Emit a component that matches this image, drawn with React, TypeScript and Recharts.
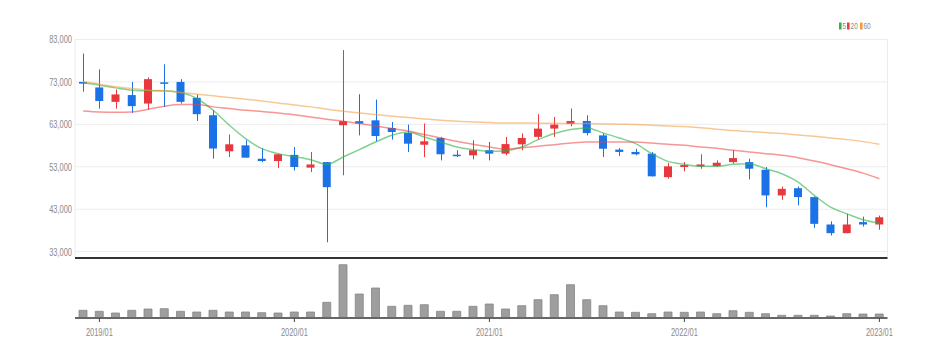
import React from 'react';
import { ComposedChart, BarChart, Bar, Line, XAxis, YAxis, CartesianGrid, Legend } from 'recharts';

const months = [
  '2018/12',
  '2019/01','2019/02','2019/03','2019/04','2019/05','2019/06','2019/07','2019/08','2019/09','2019/10','2019/11','2019/12',
  '2020/01','2020/02','2020/03','2020/04','2020/05','2020/06','2020/07','2020/08','2020/09','2020/10','2020/11','2020/12',
  '2021/01','2021/02','2021/03','2021/04','2021/05','2021/06','2021/07','2021/08','2021/09','2021/10','2021/11','2021/12',
  '2022/01','2022/02','2022/03','2022/04','2022/05','2022/06','2022/07','2022/08','2022/09','2022/10','2022/11','2022/12',
  '2023/01',
];

const opens = [
  73000,
  71700, 68300, 69900, 67900, 72900, 73000, 69250, 65150, 56650, 58050, 54900, 54350,
  55800, 52800, 54100, 62800, 63750, 63950, 62150, 60950, 58200, 59800, 55850, 55700,
  56900, 56100, 58300, 60050, 62000, 63100, 63800, 60400, 57050, 56500, 56100, 50550,
  52950, 53100, 53150, 54100, 54100, 52300, 46250, 47950, 45850, 39400, 37350, 39950,
  39400,
];
const highs = [
  79700,
  75950, 71200, 73000, 74050, 77150, 73650, 70050, 66350, 60600, 59250, 57400, 56100,
  57650, 56500, 54100, 80500, 70100, 68850, 63550, 62950, 63200, 60050, 56900, 59250,
  58850, 60050, 60850, 65400, 64750, 66750, 65150, 60850, 57400, 57250, 56500, 53900,
  54100, 55950, 54500, 56900, 54900, 52950, 48350, 48350, 46000, 40150, 41900, 41250,
  41500,
];
const lows = [
  70700,
  66700, 66700, 65700, 66500, 67100, 67900, 63800, 54900, 55300, 55150, 54100, 52700,
  52150, 51750, 35200, 51000, 60400, 59000, 59400, 56500, 55300, 54500, 55300, 54750,
  54500, 55700, 56900, 59400, 60050, 62550, 60400, 55300, 55550, 55700, 50700, 50200,
  51900, 52550, 52950, 53750, 50000, 43450, 45200, 43900, 38600, 36800, 37350, 38900,
  38150,
];
const closes = [
  72600,
  68500, 70050, 67300, 73650, 72600, 68300, 65400, 57300, 58300, 55150, 54350, 55950,
  52950, 53550, 48200, 63750, 63200, 60250, 61200, 58450, 59000, 55950, 55550, 56900,
  56100, 58350, 59800, 62000, 62950, 63800, 60950, 57250, 56500, 55950, 50750, 53100,
  53400, 53550, 53950, 55050, 52550, 46250, 47800, 45850, 39550, 37350, 39400, 39400,
  41100,
];

const ma5 = [
  72790,
  72240, 71600, 71060, 70900, 70900, 70520, 69100, 66330, 62790, 59640, 57270, 56100,
  55400, 54680, 53570, 55300, 57040, 58840, 60420, 61200, 60030, 58840, 57660, 57040,
  56640, 56800, 57660, 59400, 60830, 61770, 62150, 60970, 59790, 58460, 56100, 54280,
  53570, 53100, 53100, 53570, 53730, 52550, 51370, 49390, 46240, 43470, 41910, 40500,
  39700,
];
const ma20 = [
  66170,
  65930, 65850, 65930, 66570, 67280, 67680, 67680, 67120, 66730, 66330, 66020, 65700,
  65250, 64750, 64200, 63730, 63190, 62620, 62000, 61440, 60590, 59790, 59000, 58300,
  57660, 57200, 57510, 57820, 58220, 58600, 58840, 58840, 58840, 58840, 58600, 58300,
  58060, 57660, 57350, 56880, 56480, 56100, 55700, 55150, 54350, 53500, 52550, 51510,
  50190,
];
const ma60 = [
  73030,
  72480, 71840, 71460, 71060, 70900, 70520, 70120, 69720, 69330, 68930, 68530, 68060,
  67550, 67120, 66570, 66100, 65700, 65320, 64920, 64610, 64280, 63970, 63730, 63570,
  63420, 63300, 63330, 63260, 63260, 63190, 63190, 63110, 63030, 62950, 62790, 62620,
  62470, 62200, 61850, 61530, 61300, 61060, 60830, 60500, 60190, 59790, 59400, 58930,
  58300,
];

const volumes = [
  7700000,
  6700000, 5000000, 7700000, 9000000, 9300000, 6700000, 6000000, 7700000, 6000000, 6000000, 5300000, 5000000,
  6000000, 6000000, 15700000, 53300000, 24000000, 30000000, 11700000, 12700000, 13300000, 6700000, 6700000, 11700000,
  14000000, 9000000, 12300000, 18300000, 23300000, 33300000, 18300000, 12300000, 6000000, 5700000, 4300000, 6000000,
  5700000, 6000000, 4300000, 7300000, 5700000, 4300000, 2700000, 2700000, 2700000, 2000000, 4300000, 4000000,
  4000000,
];

const yearTicks = ['2019/01', '2020/01', '2021/01', '2022/01', '2023/01'];
const priceTicks = [33000, 43000, 53000, 63000, 73000, 83000];
const maNames = ['5', '20', '60'];

const UP = '#e8383d';
const DOWN = '#1b72e6';
const MA_COLORS = ['#2db34a', '#ee3f3f', '#f39a3c'];
const FONT = "'Liberation Sans', Arial, sans-serif";
const SQUEEZE = 0.68;
const LABEL_COLOR = '#8a8a8a';

const data = months.map((m, i) => ({
  month: m,
  open: opens[i],
  high: highs[i],
  low: lows[i],
  close: closes[i],
  range: [lows[i], highs[i]],
  ma5: ma5[i],
  ma20: ma20[i],
  ma60: ma60[i],
  volume: volumes[i],
}));

function Candle(props: any) {
  const { x, y, width, height, payload } = props;
  if (x == null || y == null || !payload) return null;
  const top = Math.min(y, y + height);
  const h = Math.abs(height);
  const { open, close, high, low } = payload;
  const k = high > low ? h / (high - low) : 0;
  const yO = top + (high - open) * k;
  const yC = top + (high - close) * k;
  const color = close >= open ? UP : DOWN;
  const cx = Math.round(x + width / 2) + 0.5;
  const bTop = Math.min(yO, yC);
  const bH = Math.max(Math.abs(yO - yC), 1.5);
  return (
    <g>
      <line x1={cx} x2={cx} y1={top} y2={top + h} stroke={color} strokeWidth={1} />
      <rect x={x} y={bTop} width={width} height={bH} fill={color} />
    </g>
  );
}

function PriceTick(props: any) {
  const { x, y, payload } = props;
  return (
    <g transform={`translate(${x},${y})`}>
      <text transform={`scale(${SQUEEZE},1)`} textAnchor="end" dy="0.36em" fontSize={11} fill={LABEL_COLOR} fontFamily={FONT}>
        {Number(payload.value).toLocaleString('en-US')}
      </text>
    </g>
  );
}

function MonthTick(props: any) {
  const { x, y, payload } = props;
  return (
    <g transform={`translate(${x},${y})`}>
      <text transform={`scale(${SQUEEZE},1)`} textAnchor="middle" dy="0.71em" fontSize={11} fill={LABEL_COLOR} fontFamily={FONT}>
        {payload.value}
      </text>
    </g>
  );
}

const legendSlots = [
  { sq: 0, tx: 3.4 },
  { sq: 8, tx: 11.6 },
  { sq: 21, tx: 24.4 },
];

function LegendContent() {
  return (
    <svg width={45} height={10} style={{ display: 'block' }}>
      {maNames.map((name, i) => (
        <g key={name}>
          <rect x={legendSlots[i].sq} y={1.5} width={2.6} height={7} fill={MA_COLORS[i]} />
          <text
            transform={`translate(${legendSlots[i].tx},8.3) scale(${SQUEEZE},1)`}
            fontSize={9.5}
            fill={LABEL_COLOR}
            fontFamily={FONT}
          >
            {name}
          </text>
        </g>
      ))}
    </svg>
  );
}

export default function App() {
  return (
    <div style={{ width: 929, height: 350, position: 'relative' }}>
      <ComposedChart
        width={929}
        height={252}
        data={data}
        margin={{ top: 31.5, right: 49.5, bottom: 0, left: 0 }}
        barCategoryGap={0}
      >
        <CartesianGrid stroke="#ececec" strokeWidth={1} />
        <XAxis
          dataKey="month"
          ticks={yearTicks}
          interval={0}
          tick={false}
          tickLine={false}
          height={2}
          axisLine={{ stroke: '#333', strokeWidth: 2 }}
        />
        <YAxis
          domain={[31500, 83000]}
          ticks={priceTicks}
          interval={0}
          allowDataOverflow
          width={67}
          axisLine={false}
          tickLine={false}
          tickSize={0}
          tickMargin={3}
          tick={<PriceTick />}
        />
        <Legend
          layout="vertical"
          align="center"
          verticalAlign="middle"
          wrapperStyle={{ left: 831.3, top: 13.3, width: 45, height: 10 }}
          content={<LegendContent />}
        />
        <Line dataKey="ma5" name={maNames[0]} type="monotone" stroke={MA_COLORS[0]} strokeOpacity={0.6} strokeWidth={1.5} dot={false} activeDot={false} isAnimationActive={false} />
        <Line dataKey="ma20" name={maNames[1]} type="monotone" stroke={MA_COLORS[1]} strokeOpacity={0.55} strokeWidth={1.5} dot={false} activeDot={false} isAnimationActive={false} />
        <Line dataKey="ma60" name={maNames[2]} type="monotone" stroke={MA_COLORS[2]} strokeOpacity={0.55} strokeWidth={1.5} dot={false} activeDot={false} isAnimationActive={false} />
        <Bar dataKey="range" barSize={8} shape={<Candle />} isAnimationActive={false} legendType="none" />
      </ComposedChart>
      <BarChart
        width={929}
        height={90}
        data={data}
        margin={{ top: 2, right: 49.5, bottom: 8, left: 67 }}
      >
        <XAxis
          dataKey="month"
          ticks={yearTicks}
          interval={0}
          height={24}
          tickSize={4}
          tickMargin={6}
          tick={<MonthTick />}
          axisLine={{ stroke: '#666', strokeWidth: 2 }}
          tickLine={{ stroke: '#444' }}
        />
        <YAxis hide domain={[0, 56000000]} />
        <Bar dataKey="volume" barSize={8} fill="#9e9e9e" stroke="#878787" strokeWidth={0.8} isAnimationActive={false} />
      </BarChart>
    </div>
  );
}
